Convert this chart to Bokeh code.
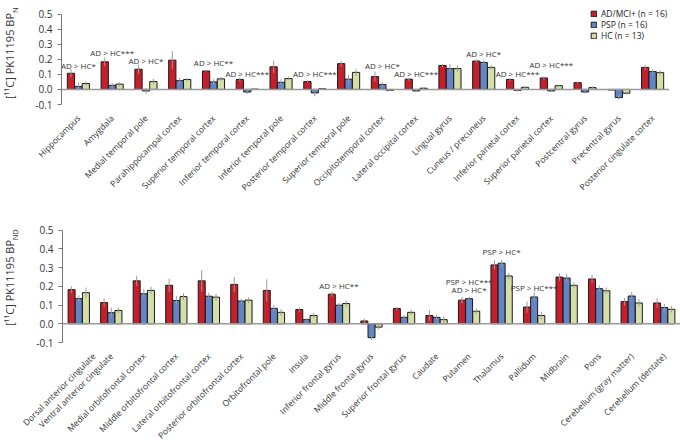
from math import pi
from bokeh.plotting import figure
from bokeh.models import (ColumnDataSource, FactorRange, Range1d, FixedTicker,
                          NumeralTickFormatter, Span, Legend, LegendItem)
from bokeh.transform import dodge
from bokeh.layouts import column, row
from bokeh.embed import file_html
from bokeh.resources import INLINE
from bokeh.core.properties import value

# ---------------- data: top panel ----------------
cats_top = ["Hippocampus", "Amygdala", "Medial temporal pole", "Parahippocampal cortex",
            "Superior temporal cortex", "Inferior temporal cortex", "Inferior temporal pole",
            "Posterior temporal cortex", "Superior temporal pole", "Occipitotemporal cortex",
            "Lateral occipital cortex", "Lingual gyrus", "Cuneus / precuneus",
            "Inferior parietal cortex", "Superior parietal cortex", "Postcentral gyrus",
            "Precentral gyrus", "Posterior cingulate cortex"]
ad_top = [0.107, 0.183, 0.134, 0.194, 0.122, 0.066, 0.150, 0.052, 0.171, 0.085, 0.068,
          0.159, 0.188, 0.066, 0.076, 0.045, -0.004, 0.146]
psp_top = [0.020, 0.027, -0.010, 0.058, 0.050, -0.017, 0.047, -0.023, 0.068, 0.033, -0.010,
           0.138, 0.179, -0.006, -0.010, -0.017, -0.054, 0.118]
hc_top = [0.039, 0.035, 0.052, 0.066, 0.070, 0.002, 0.072, 0.004, 0.113, -0.006, 0.008,
          0.138, 0.146, 0.014, 0.025, 0.012, -0.025, 0.111]
ad_top_err = [0.027, 0.029, 0.031, 0.060, 0.005, 0.014, 0.041, 0.008, 0.021, 0.033, 0.010,
              0.010, 0.012, 0.010, 0.010, 0.006, 0.005, 0.016]
psp_top_err = [0.025, 0.017, 0.020, 0.019, 0.017, 0.014, 0.021, 0.023, 0.029, 0.016, 0.008,
               0.031, 0.016, 0.008, 0.008, 0.010, 0.015, 0.016]
hc_top_err = [0.013, 0.014, 0.019, 0.010, 0.012, 0.005, 0.012, 0.005, 0.021, 0.005, 0.005,
              0.023, 0.016, 0.008, 0.008, 0.008, 0.010, 0.016]
ann_top_cat = ["Hippocampus", "Amygdala", "Medial temporal pole", "Superior temporal cortex",
               "Inferior temporal cortex", "Posterior temporal cortex", "Occipitotemporal cortex",
               "Lateral occipital cortex", "Cuneus / precuneus", "Inferior parietal cortex",
               "Superior parietal cortex"]
ann_top_y = [0.160, 0.243, 0.190, 0.178, 0.108, 0.108, 0.160, 0.108, 0.235, 0.108, 0.167]
ann_top_text = ["AD > HC*", "AD > HC***", "AD > HC*", "AD > HC**", "AD > HC***", "AD > HC***",
                "AD > HC*", "AD > HC***", "AD > HC*", "AD > HC***", "AD > HC***"]

# ---------------- data: bottom panel ----------------
cats_bot = ["Dorsal anterior cingulate", "Ventral anterior cingulate",
            "Medial orbitofrontal cortex", "Middle orbitofrontal cortex",
            "Lateral orbitofrontal cortex", "Posterior orbitofrontal cortex",
            "Orbitofrontal pole", "Insula", "Inferior frontal gyrus", "Middle frontal gyrus",
            "Superior frontal gyrus", "Caudate", "Putamen", "Thalamus", "Pallidum",
            "Midbrain", "Pons", "Cerebellum (gray matter)", "Cerebellum (dentate)"]
ad_bot = [0.182, 0.113, 0.229, 0.205, 0.229, 0.210, 0.178, 0.076, 0.158, 0.015, 0.081,
          0.044, 0.126, 0.314, 0.089, 0.249, 0.239, 0.118, 0.111]
psp_bot = [0.134, 0.059, 0.160, 0.124, 0.147, 0.121, 0.082, 0.022, 0.099, -0.074, 0.034,
           0.034, 0.134, 0.323, 0.143, 0.244, 0.187, 0.148, 0.087]
hc_bot = [0.166, 0.071, 0.178, 0.145, 0.142, 0.126, 0.061, 0.044, 0.108, -0.018, 0.061,
          0.022, 0.067, 0.255, 0.044, 0.205, 0.176, 0.111, 0.077]
ad_bot_err = [0.018, 0.022, 0.027, 0.035, 0.057, 0.040, 0.059, 0.012, 0.013, 0.013, 0.008,
              0.029, 0.017, 0.024, 0.030, 0.020, 0.022, 0.020, 0.025]
psp_bot_err = [0.017, 0.027, 0.025, 0.025, 0.018, 0.013, 0.017, 0.008, 0.013, 0.013, 0.013,
               0.015, 0.010, 0.018, 0.025, 0.022, 0.018, 0.022, 0.018]
hc_bot_err = [0.027, 0.015, 0.020, 0.018, 0.017, 0.015, 0.017, 0.015, 0.017, 0.013, 0.015,
              0.017, 0.015, 0.017, 0.020, 0.017, 0.017, 0.020, 0.017]
ann_bot_cat = ["Inferior frontal gyrus", "Putamen", "Putamen", "Thalamus", "Pallidum"]
ann_bot_y = [0.205, 0.227, 0.185, 0.383, 0.194]
ann_bot_text = ["AD > HC**", "PSP > HC***", "AD > HC*", "PSP > HC*", "PSP > HC***"]

y_ticks = [-0.1, 0.0, 0.1, 0.2, 0.3, 0.4, 0.5]
y_min, y_max = -0.1, 0.5
y_title = "[¹¹C] PK11195 BP"
y_title_sub = "ND"
series_names = ["AD/MCI+ (n = 16)", "PSP (n = 16)", "HC (n = 13)"]
colors = ["#C51F2B", "#6284C4", "#D4DEA6"]

FONT = "Open Sans"
W = 680
LW = 20  # width of the strip holding the y-axis title


def title_strip(height, b_top, b_bottom):
    fh = height - b_top - b_bottom
    unit_px = fh / (y_max - y_min)
    s = figure(x_range=Range1d(0, LW), y_range=Range1d(y_min, y_max), width=LW,
               height=height, output_backend="svg", toolbar_location=None,
               x_axis_location=None, y_axis_location=None, min_border_left=0,
               min_border_right=0, min_border_top=b_top, min_border_bottom=b_bottom)
    s.outline_line_color = None
    s.xgrid.grid_line_color = None
    s.ygrid.grid_line_color = None
    s.text(x=[9], y=[0.2], text=[y_title], angle=pi / 2, text_align="center",
           text_baseline="middle", text_font_size="11px", text_color="#333333",
           text_font=value(FONT))
    s.text(x=[14], y=[0.2 + 43 / unit_px], text=[y_title_sub], angle=pi / 2,
           text_align="left", text_baseline="middle", text_font_size="7.5px",
           text_color="#333333", text_font=value(FONT))
    return s


def make_panel(cats, vals, errs, ann_cat, ann_y, ann_text, height, b_left, b_right,
               b_top, b_bottom, legend=False):
    fh = height - b_top - b_bottom
    unit_px = fh / (y_max - y_min)
    # the frame reaches the figure's top edge so the legend above 0.5 is not clipped
    p = figure(x_range=FactorRange(*cats), y_range=Range1d(y_min, y_max + b_top / unit_px),
               width=W - LW, height=height, output_backend="svg", toolbar_location=None,
               min_border_left=b_left - LW, min_border_right=b_right, min_border_top=0,
               min_border_bottom=b_bottom)
    p.outline_line_color = None
    p.xgrid.grid_line_color = None
    p.ygrid.grid_line_color = None

    p.add_layout(Span(location=0, dimension="width", line_color="#9a9a9a", line_width=1.5))

    offsets = [-0.22, 0.0, 0.22]
    renderers = []
    for i in range(3):
        v = vals[i]
        e = errs[i]
        src = ColumnDataSource(dict(cat=cats, val=v,
                                    lo=[a - b for a, b in zip(v, e)],
                                    hi=[a + b for a, b in zip(v, e)]))
        r = p.vbar(x=dodge("cat", offsets[i], range=p.x_range), top="val", bottom=0,
                   width=0.215, source=src, fill_color=colors[i], line_color="#1a1a1a",
                   line_width=1)
        p.segment(x0=dodge("cat", offsets[i], range=p.x_range), y0="lo",
                  x1=dodge("cat", offsets[i], range=p.x_range), y1="hi", source=src,
                  line_color="#9a9a9a", line_width=1)
        renderers.append(r)

    asrc = ColumnDataSource(dict(cat=ann_cat, y=ann_y, t=ann_text))
    p.text(x="cat", y="y", text="t", source=asrc, text_align="center",
           text_baseline="middle", text_font_size="8px", text_color="#333333",
           text_font=value(FONT))

    yax = p.yaxis[0]
    yax.bounds = (y_min, y_max)
    yax.ticker = FixedTicker(ticks=y_ticks)
    yax.formatter = NumeralTickFormatter(format="0.0")
    yax.axis_line_color = "#777777"
    yax.major_tick_line_color = "#777777"
    yax.major_tick_in = 0
    yax.major_tick_out = 4
    yax.minor_tick_line_color = None
    yax.major_label_text_font_size = "10px"
    yax.major_label_text_color = "#333333"
    yax.major_label_text_font = FONT

    xax = p.xaxis[0]
    xax.axis_line_color = None
    xax.major_tick_line_color = None
    xax.minor_tick_line_color = None
    xax.major_label_orientation = pi / 4
    xax.major_label_text_font_size = "8.5px"
    xax.major_label_text_color = "#333333"
    xax.major_label_text_font = FONT
    xax.major_label_standoff = 6

    if legend:
        items = [LegendItem(label=series_names[i], renderers=[renderers[i]]) for i in range(3)]
        lg = Legend(items=items, location=(529, fh + b_top - 41), orientation="vertical")
        lg.border_line_color = None
        lg.background_fill_alpha = 0
        lg.padding = 0
        lg.margin = 0
        lg.spacing = 0
        lg.glyph_height = 7
        lg.glyph_width = 7
        lg.label_height = 9
        lg.label_standoff = 4
        lg.label_text_font_size = "8.5px"
        lg.label_text_font = FONT
        lg.label_text_color = "#222222"
        p.add_layout(lg)
    return p


top = make_panel(cats_top, [ad_top, psp_top, hc_top], [ad_top_err, psp_top_err, hc_top_err],
                 ann_top_cat, ann_top_y, ann_top_text, height=216, b_left=61, b_right=11,
                 b_top=7, b_bottom=112, legend=True)
bot = make_panel(cats_bot, [ad_bot, psp_bot, hc_bot], [ad_bot_err, psp_bot_err, hc_bot_err],
                 ann_bot_cat, ann_bot_y, ann_bot_text, height=231, b_left=62, b_right=0,
                 b_top=7, b_bottom=104)

layout = column(row(title_strip(216, 7, 112), top, spacing=0),
                row(title_strip(231, 7, 104), bot, spacing=0), spacing=0)
open("out.html", "w").write(file_html(layout, INLINE))
